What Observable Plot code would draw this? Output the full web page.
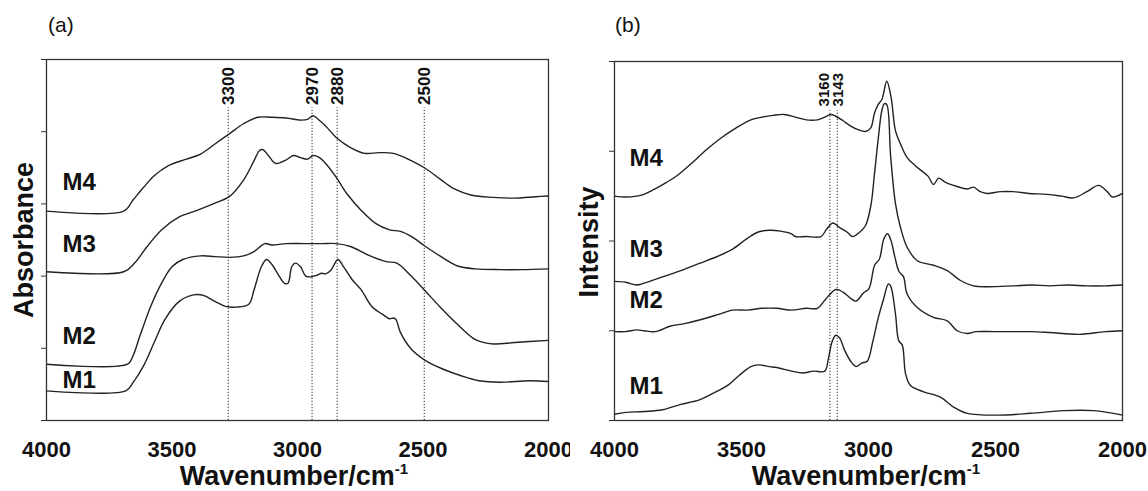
<!DOCTYPE html>
<html><head><meta charset="utf-8">
<script src="https://cdn.jsdelivr.net/npm/d3@7"></script>
<script src="https://cdn.jsdelivr.net/npm/@observablehq/plot@0.6"></script>
<style>
body{margin:0;background:#fff;}
#wrap{position:relative;width:1148px;height:491px;overflow:hidden;background:#fff;}
#pa,#pb{position:absolute;top:0;}
#pa{left:0}
#pb{left:570px}
svg{overflow:visible;}
</style></head><body>
<div id="wrap"><div id="pa"></div><div id="pb"></div></div>
<script>
// ---------- shared ----------
const xTicks = [4000, 3500, 3000, 2500, 2000];
const seriesNames = ["M1", "M2", "M3", "M4"];

// ---------- panel (a): Absorbance ----------
const aYTicks = [0, 1, 2, 3, 4, 5];
const a_M1 = [[4000,0.41],[3684,0.41],[3656,0.52],[3613,0.76],[3571,1.08],[3528,1.40],[3471,1.65],[3414,1.74],[3372,1.73],[3329,1.65],[3286,1.58],[3244,1.57],[3194,1.61],[3173,1.81],[3144,2.13],[3123,2.23],[3102,2.16],[3073,2.00],[3052,1.90],[3038,1.90],[3023,2.13],[3009,2.18],[2988,2.13],[2967,2.00],[2945,1.99],[2924,2.01],[2903,2.04],[2888,2.03],[2867,2.08],[2839,2.23],[2817,2.13],[2782,1.95],[2746,1.81],[2704,1.58],[2661,1.47],[2633,1.41],[2618,1.42],[2608,1.40],[2590,1.22],[2547,0.99],[2490,0.83],[2419,0.71],[2348,0.62],[2277,0.55],[2192,0.53],[2078,0.55],[2000,0.54]];
const a_M2 = [[4000,0.78],[3677,0.78],[3656,0.89],[3628,1.17],[3585,1.58],[3542,1.90],[3500,2.13],[3457,2.23],[3386,2.28],[3329,2.27],[3272,2.26],[3215,2.28],[3173,2.34],[3130,2.45],[3102,2.43],[3045,2.45],[2974,2.45],[2903,2.45],[2846,2.45],[2789,2.41],[2718,2.29],[2647,2.20],[2604,2.18],[2547,2.00],[2490,1.79],[2434,1.58],[2362,1.33],[2291,1.12],[2220,1.06],[2135,1.08],[2000,1.11]];
const a_M3 = [[4000,2.06],[3692,2.06],[3649,2.18],[3599,2.41],[3542,2.64],[3471,2.82],[3400,2.91],[3329,3.01],[3272,3.10],[3215,3.33],[3173,3.60],[3151,3.74],[3137,3.75],[3116,3.67],[3087,3.56],[3045,3.61],[3016,3.67],[2988,3.64],[2960,3.62],[2938,3.67],[2917,3.65],[2888,3.56],[2846,3.37],[2803,3.14],[2746,2.91],[2689,2.73],[2633,2.64],[2590,2.62],[2547,2.55],[2490,2.41],[2419,2.25],[2362,2.14],[2291,2.10],[2192,2.09],[2107,2.09],[2000,2.10]];
const a_M4 = [[4000,2.90],[3692,2.90],[3656,3.05],[3613,3.23],[3571,3.39],[3514,3.53],[3443,3.62],[3386,3.69],[3329,3.83],[3272,3.97],[3215,4.11],[3158,4.20],[3102,4.20],[3045,4.19],[2988,4.16],[2960,4.17],[2938,4.22],[2917,4.17],[2888,4.08],[2846,3.92],[2789,3.78],[2732,3.70],[2675,3.71],[2618,3.70],[2547,3.60],[2490,3.49],[2434,3.35],[2377,3.21],[2306,3.12],[2220,3.09],[2135,3.08],[2050,3.10],[2000,3.11]];
const aRefPos = [3276, 2942, 2842, 2495];
const aRefText = ["3300", "2970", "2880", "2500"];
const aRefTop = 4.33;
const aRefLabelY = 4.37;
const aLabelX = [3936, 3936, 3936, 3936];
const aLabelY = [0.55, 1.16, 2.44, 3.30];

// ---------- panel (b): Intensity ----------
const bYTicks = [0, 1, 2, 3, 4];
const b_M1 = [[4000,0.07],[3956,0.09],[3884,0.10],[3811,0.12],[3739,0.18],[3666,0.23],[3593,0.33],[3550,0.40],[3506,0.51],[3463,0.60],[3434,0.62],[3390,0.60],[3361,0.59],[3303,0.55],[3259,0.53],[3216,0.55],[3172,0.55],[3158,0.69],[3143,0.88],[3129,0.95],[3114,0.92],[3092,0.77],[3070,0.66],[3049,0.60],[3027,0.64],[3005,0.66],[2983,0.88],[2962,1.14],[2940,1.36],[2922,1.52],[2913,1.50],[2894,1.19],[2881,0.89],[2867,0.84],[2854,0.52],[2835,0.39],[2783,0.32],[2717,0.26],[2665,0.15],[2611,0.08],[2493,0.06],[2362,0.08],[2232,0.11],[2114,0.11],[2000,0.06]];
const b_M2 = [[4000,0.99],[3956,0.99],[3913,1.01],[3884,1.00],[3840,0.99],[3782,1.05],[3724,1.08],[3666,1.12],[3593,1.18],[3535,1.23],[3477,1.23],[3419,1.25],[3361,1.25],[3303,1.23],[3245,1.25],[3201,1.25],[3172,1.34],[3129,1.46],[3100,1.43],[3070,1.36],[3049,1.33],[3020,1.42],[2998,1.47],[2976,1.73],[2957,1.80],[2940,2.02],[2925,2.08],[2911,2.00],[2896,1.82],[2880,1.66],[2862,1.60],[2848,1.41],[2808,1.26],[2744,1.15],[2690,1.11],[2651,1.00],[2611,0.97],[2577,0.99],[2504,0.99],[2431,0.99],[2359,0.99],[2286,0.98],[2170,0.96],[2068,0.99],[2000,1.00]];
const b_M3 = [[4000,1.55],[3956,1.54],[3913,1.51],[3884,1.53],[3862,1.55],[3811,1.60],[3739,1.67],[3666,1.75],[3593,1.83],[3535,1.91],[3477,2.03],[3434,2.10],[3390,2.12],[3346,2.11],[3303,2.08],[3288,2.05],[3245,2.05],[3187,2.05],[3165,2.13],[3140,2.20],[3114,2.15],[3085,2.10],[3063,2.05],[3034,2.10],[3012,2.17],[2991,2.39],[2976,2.76],[2962,3.13],[2947,3.46],[2937,3.53],[2928,3.52],[2913,2.95],[2894,2.42],[2874,2.15],[2848,1.93],[2808,1.78],[2744,1.73],[2690,1.67],[2638,1.56],[2587,1.50],[2533,1.49],[2431,1.50],[2359,1.51],[2286,1.50],[2214,1.51],[2141,1.50],[2068,1.50],[2000,1.51]];
const b_M4 = [[4000,2.50],[3956,2.49],[3913,2.50],[3884,2.52],[3862,2.55],[3840,2.58],[3797,2.65],[3753,2.73],[3695,2.87],[3637,3.02],[3579,3.15],[3521,3.26],[3463,3.35],[3419,3.38],[3375,3.40],[3332,3.41],[3288,3.38],[3245,3.35],[3201,3.35],[3172,3.38],[3149,3.41],[3129,3.39],[3100,3.34],[3070,3.28],[3041,3.24],[3012,3.22],[2991,3.26],[2976,3.43],[2962,3.52],[2947,3.58],[2928,3.78],[2911,3.60],[2894,3.23],[2874,3.08],[2848,2.93],[2820,2.85],[2795,2.79],[2765,2.72],[2744,2.63],[2724,2.70],[2700,2.66],[2665,2.62],[2610,2.58],[2587,2.60],[2560,2.55],[2532,2.53],[2480,2.55],[2429,2.55],[2370,2.53],[2296,2.52],[2240,2.50],[2193,2.48],[2140,2.55],[2094,2.62],[2060,2.55],[2040,2.49],[2000,2.53]];
const bRefPos = [3152, 3123];
const bRefText = ["3160", "3143"];
const bRefLabelPos = [3173, 3121];
const bRefTop = 3.45;
const bRefLabelY = 3.50;
const bLabelX = [3941, 3941, 3941, 3941];
const bLabelY = [0.38, 1.34, 1.91, 2.92];

// ---------- build ----------
const FONT = "'Liberation Sans', Arial, Helvetica, sans-serif";
function rows(list) {
  const out = [];
  list.forEach((arr, i) => arr.forEach(([wn, v]) => out.push({wn, v, s: seriesNames[i]})));
  return out;
}
function panel(opts) {
  const lineRows = rows(opts.series);
  const refRows = opts.refPos.map((p, i) => ({wn: p, lx: opts.refLabelPos[i], label: opts.refText[i]}));
  const labRows = seriesNames.map((s, i) => ({s, x: opts.labelX[i], y: opts.labelY[i]}));
  const yMax = opts.yTicks[opts.yTicks.length - 1];
  const chart = Plot.plot({
    width: opts.width, height: 491,
    marginLeft: opts.ml, marginRight: opts.mr, marginTop: opts.mt, marginBottom: 71,
    style: {fontFamily: FONT, fontSize: "21px", fontWeight: "bold", color: "#111", background: "white", overflow: "visible"},
    x: {domain: [4000, 2000], axis: null},
    y: {domain: [0, yMax]},
    marks: [
      Plot.axisY({ticks: opts.yTicks, tickSize: 5, tickFormat: () => "", label: null, stroke: "#333"}),
      // x tick labels (bold, large) placed with the x scale
      Plot.text(xTicks, {x: d => d, y: 0, text: d => String(d), dy: 29, fontSize: 22, fontWeight: "bold", fill: "#111"}),
      Plot.ruleX(refRows, {x: "wn", y1: 0, y2: opts.refTop, stroke: "#444", strokeWidth: 1.1, strokeDasharray: "1.3,1.7"}),
      Plot.text(refRows, {x: "lx", y: opts.refLabelY, text: "label", rotate: -90, textAnchor: "start", fontSize: opts.refFont, fontWeight: "bold", fill: "#111"}),
      Plot.line(lineRows, {x: "wn", y: "v", z: "s", stroke: "#222", strokeWidth: 1.4, curve: "catmull-rom"}),
      Plot.text(labRows, {x: "x", y: "y", text: "s", textAnchor: "start", fontSize: 24, fontWeight: "bold", fill: "#111"}),
      Plot.frame({stroke: "#333", strokeWidth: 1.3})
    ]
  });
  const svg = d3.select(chart);
  svg.style("overflow", "visible");
  svg.append("text").attr("x", opts.tagX).attr("y", 32).attr("text-anchor", "start")
    .attr("font-size", 21).attr("font-weight", "normal").attr("fill", "#111").text(opts.tag);
  svg.append("text").attr("transform", `translate(${opts.ylabX},${opts.ylabY}) rotate(-90)`)
    .attr("text-anchor", "middle").attr("dy", "0.35em").attr("font-size", 27).attr("font-weight", "bold")
    .attr("fill", "#111").text(opts.ylab);
  const t = svg.append("text").attr("x", opts.xlabX).attr("y", 485).attr("text-anchor", "middle")
    .attr("font-size", 27).attr("font-weight", "bold").attr("fill", "#111");
  t.append("tspan").text("Wavenumber/cm");
  t.append("tspan").attr("dy", -11).attr("font-size", 15).text("-1");
  return chart;
}

document.getElementById("pa").appendChild(panel({
  width: 570, ml: 46, mr: 22, mt: 59,
  yTicks: aYTicks, series: [a_M1, a_M2, a_M3, a_M4],
  refPos: aRefPos, refText: aRefText, refLabelPos: aRefPos, refTop: aRefTop, refLabelY: aRefLabelY, refFont: 17,
  labelX: aLabelX, labelY: aLabelY,
  tag: "(a)", tagX: 48, ylab: "Absorbance", ylabX: 24, ylabY: 240, xlabX: 294
}));
document.getElementById("pb").appendChild(panel({
  width: 578, ml: 44, mr: 26, mt: 61,
  yTicks: bYTicks, series: [b_M1, b_M2, b_M3, b_M4],
  refPos: bRefPos, refText: bRefText, refLabelPos: bRefLabelPos, refTop: bRefTop, refLabelY: bRefLabelY, refFont: 15,
  labelX: bLabelX, labelY: bLabelY,
  tag: "(b)", tagX: 45, ylab: "Intensity", ylabX: 19, ylabY: 242, xlabX: 296
}));
</script>
</body></html>
